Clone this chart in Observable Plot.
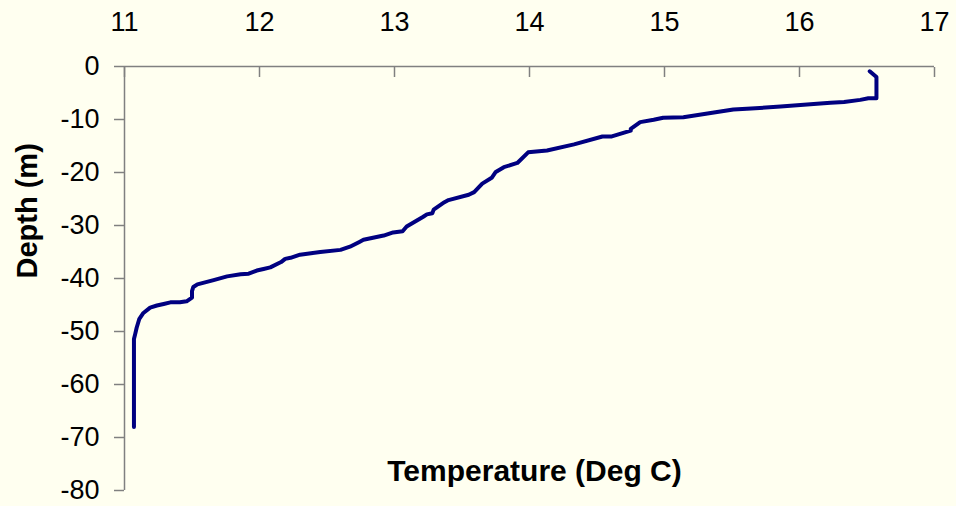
<!DOCTYPE html>
<html>
<head>
<meta charset="utf-8">
<script src="https://cdn.jsdelivr.net/npm/d3@7"></script>
<script src="https://cdn.jsdelivr.net/npm/@observablehq/plot@0.6"></script>
<style>
  html, body { margin: 0; padding: 0; background: #FFFFF0; }
  #chart svg { display: block; }
</style>
</head>
<body>
<div id="chart"></div>
<script>
const temperature = [16.52, 16.57, 16.57, 16.51, 16.45, 16.33, 16.23, 16.13, 15.86, 15.61, 15.51, 15.39, 15.14, 14.99, 14.92, 14.82, 14.75, 14.75, 14.61, 14.54, 14.33, 14.13, 13.99, 13.91, 13.81, 13.75, 13.72, 13.65, 13.59, 13.55, 13.40, 13.37, 13.29, 13.28, 13.24, 13.21, 13.09, 13.06, 12.99, 12.92, 12.77, 12.74, 12.67, 12.60, 12.45, 12.30, 12.23, 12.19, 12.16, 12.08, 12.03, 11.98, 11.92, 11.86, 11.76, 11.66, 11.54, 11.51, 11.50, 11.50, 11.46, 11.41, 11.34, 11.29, 11.24, 11.19, 11.14, 11.11, 11.09, 11.08, 11.07, 11.07, 11.07];
const depth = [-0.9, -2.0, -6.0, -6.0, -6.3, -6.7, -6.85, -7.05, -7.55, -7.98, -8.1, -8.6, -9.56, -9.68, -10.06, -10.5, -11.76, -12.1, -13.2, -13.2, -14.7, -15.85, -16.2, -18.2, -19.0, -19.9, -21.0, -22.1, -23.7, -24.2, -25.2, -25.6, -27.0, -27.7, -27.9, -28.4, -30.2, -31.1, -31.3, -31.9, -32.7, -33.1, -34.0, -34.6, -35.0, -35.5, -36.1, -36.3, -36.9, -37.9, -38.2, -38.5, -39.1, -39.2, -39.6, -40.3, -41.1, -41.6, -42.4, -43.6, -44.3, -44.5, -44.5, -44.8, -45.1, -45.5, -46.5, -47.6, -49.3, -50.4, -51.4, -55.5, -68.0];
const xTicks = [11, 12, 13, 14, 15, 16, 17];
const yTicks = [0, -10, -20, -30, -40, -50, -60, -70, -80];
const xTitle = "Temperature (Deg C)";
const yTitle = "Depth (m)";

const profile = temperature.map((t, i) => ({t, d: depth[i]}));
const fmt = d => String(d);

const chart = Plot.plot({
  width: 956,
  height: 506,
  marginTop: 66,
  marginBottom: 16,
  marginLeft: 124,
  marginRight: 22,
  style: {background: "#FFFFF0", fontFamily: "'Liberation Sans', Arial, sans-serif", color: "#000"},
  x: {domain: [11, 17], ticks: xTicks, label: null},
  y: {domain: [-80, 0], ticks: yTicks, label: null},
  marks: [
    Plot.ruleY([0], {stroke: "#808080", strokeWidth: 1.5}),
    Plot.ruleX([11], {stroke: "#808080", strokeWidth: 1.5}),
    Plot.axisX({anchor: "top", ticks: xTicks, tickSize: 0, tickPadding: 36, tickFormat: fmt, label: null, stroke: "none", fill: "#000"}),
    Plot.axisX({anchor: "top", ticks: xTicks, tickSize: -10, tickFormat: () => "", label: null, stroke: "#808080", strokeWidth: 1.5}),
    Plot.axisY({anchor: "left", ticks: yTicks, tickSize: 10, tickPadding: 15, tickFormat: fmt, label: null, stroke: "#808080", strokeWidth: 1.5, fill: "#000"}),
    Plot.line(profile, {x: "t", y: "d", stroke: "#000080", strokeWidth: 4, curve: "linear"}),
    Plot.text([xTitle], {frameAnchor: "bottom", dy: -10, dx: 5, fontSize: 30, fontWeight: "bold", fill: "#000"}),
    Plot.text([yTitle], {frameAnchor: "left", dx: -97, rotate: -90, fontSize: 29, fontWeight: "bold", fill: "#000"})
  ]
});
d3.select(chart).selectAll('g[aria-label$="tick label"]').attr("font-size", 27).style("font-size", "27px");
d3.select(chart).selectAll('g[aria-label$="tick label"] text').attr("font-size", 27).style("font-size", "27px");
document.getElementById("chart").appendChild(chart);
</script>
</body>
</html>
